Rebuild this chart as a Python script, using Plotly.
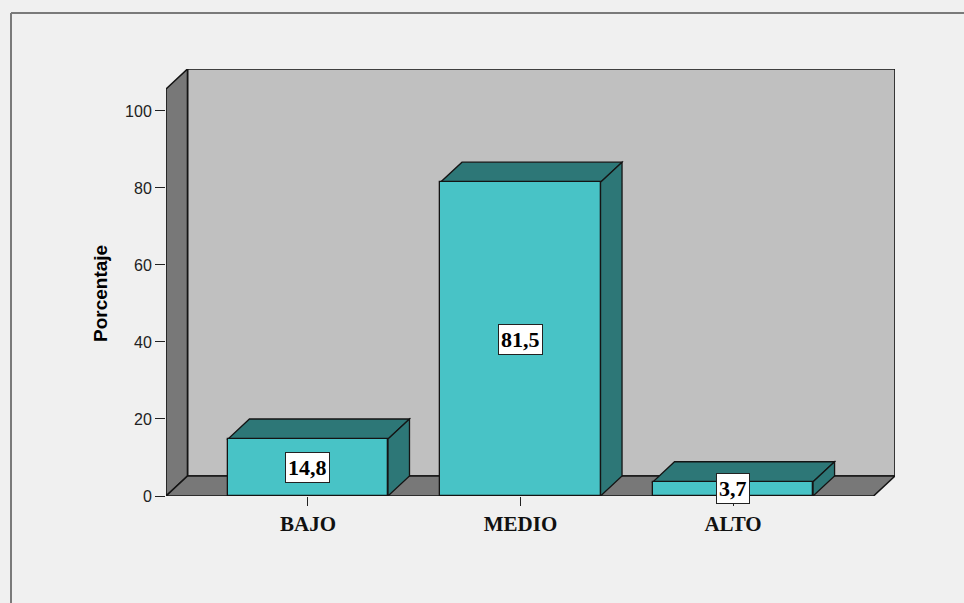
import plotly.graph_objects as go

# Data
categories = ["BAJO", "MEDIO", "ALTO"]
percentages = [14.8, 81.5, 3.7]
value_labels = ["14,8", "81,5", "3,7"]
y_ticks = [0, 20, 40, 60, 80, 100]
y_title = "Porcentaje"

# Figure geometry (pixels)
W, H = 964, 603
ML, MR, MT, MB = 166, 69, 69, 107
plot_w = W - ML - MR
plot_h = H - MT - MB

# Axis ranges: category slot = 212.5 px, value unit = 3.85 px
X0, X1 = -0.668, 2.762
Y0, Y1 = 0.0, 110.9
px_x = plot_w / (X1 - X0)
px_y = plot_h / (Y1 - Y0)

# 3D depth offset expressed in axis units
DX = 21.5 / px_x
DY = 20.0 / px_y
BAR_W = 0.753

FRONT = "#48c3c6"
SHADE = "#2d7777"
BACK_WALL = "#c0c0c0"
SIDE_WALL = "#787878"
EDGE = "#141414"


def poly(points):
    return "M " + " L ".join(f"{x},{y}" for x, y in points) + " Z"


shapes = []

# Back wall
shapes.append(dict(type="path", xref="x", yref="y", layer="below",
                   path=poly([(X0 + DX, DY), (X1, DY), (X1, Y1), (X0 + DX, Y1)]),
                   fillcolor=BACK_WALL, line=dict(color=EDGE, width=1.6)))
# Left wall
shapes.append(dict(type="path", xref="x", yref="y", layer="below",
                   path=poly([(X0, 0), (X0, Y1 - DY), (X0 + DX, Y1), (X0 + DX, DY)]),
                   fillcolor=SIDE_WALL, line=dict(color=EDGE, width=1.6)))
# Floor
shapes.append(dict(type="path", xref="x", yref="y", layer="below",
                   path=poly([(X0, 0), (X1 - DX, 0), (X1, DY), (X0 + DX, DY)]),
                   fillcolor=SIDE_WALL, line=dict(color=EDGE, width=1.6)))

# Top and side faces of each bar
for i, v in enumerate(percentages):
    xl, xr = i - BAR_W / 2, i + BAR_W / 2
    shapes.append(dict(type="path", xref="x", yref="y", layer="below",
                       path=poly([(xl, v), (xr, v), (xr + DX, v + DY), (xl + DX, v + DY)]),
                       fillcolor=SHADE, line=dict(color=EDGE, width=1.3)))
    shapes.append(dict(type="path", xref="x", yref="y", layer="below",
                       path=poly([(xr, 0), (xr, v), (xr + DX, v + DY), (xr + DX, DY)]),
                       fillcolor=SHADE, line=dict(color=EDGE, width=1.3)))


# Pixel -> paper helpers for decorations outside the plot area
def to_paper_x(px):
    return (px - ML) / plot_w


def to_paper_y(py):
    return (H - MB - py) / plot_h


# Outer frame (top and left edges)
shapes.append(dict(type="line", xref="paper", yref="paper", layer="above",
                   x0=to_paper_x(11), y0=to_paper_y(13), x1=to_paper_x(970), y1=to_paper_y(13),
                   line=dict(color="#7a7a7a", width=2)))
shapes.append(dict(type="line", xref="paper", yref="paper", layer="above",
                   x0=to_paper_x(11), y0=to_paper_y(13), x1=to_paper_x(11), y1=to_paper_y(610),
                   line=dict(color="#7a7a7a", width=2)))

fig = go.Figure()
fig.add_trace(go.Bar(
    x=list(range(len(categories))), y=percentages, width=BAR_W,
    marker=dict(color=FRONT, line=dict(color=EDGE, width=1.3)),
    hoverinfo="skip", showlegend=False,
))

annotations = []
for i, (v, lab) in enumerate(zip(percentages, value_labels)):
    annotations.append(dict(
        x=i, y=v / 2, xref="x", yref="y", text=f"<b>{lab}</b>", showarrow=False,
        font=dict(family="Liberation Serif", size=22, color="#000000"),
        bgcolor="#ffffff", bordercolor="#222222", borderwidth=1, borderpad=2,
    ))

# Rotated y-axis title
annotations.append(dict(
    x=to_paper_x(100), y=to_paper_y(294), xref="paper", yref="paper",
    text=f"<b>{y_title}</b>", textangle=-90, showarrow=False,
    xanchor="center", yanchor="middle",
    font=dict(family="Liberation Sans", size=19, color="#000000"),
))

fig.update_layout(
    width=W, height=H,
    margin=dict(l=ML, r=MR, t=MT, b=MB),
    paper_bgcolor="#f0f0f0",
    plot_bgcolor="rgba(0,0,0,0)",
    shapes=shapes,
    annotations=annotations,
    bargap=0,
    xaxis=dict(
        range=[X0, X1], tickmode="array", tickvals=list(range(len(categories))),
        ticktext=[f"<b>{c}</b>" for c in categories], ticks="outside", ticklen=9,
        tickcolor="#222222", tickwidth=1.2, showgrid=False, zeroline=False, showline=False,
        tickfont=dict(family="Liberation Serif", size=21, color="#111111"),
        ticklabelstandoff=0,
    ),
    yaxis=dict(
        range=[Y0, Y1], tickmode="array", tickvals=y_ticks,
        ticks="outside", ticklen=10, tickcolor="#222222", tickwidth=1.2,
        showgrid=False, zeroline=False, showline=False,
        tickfont=dict(family="Liberation Sans", size=16, color="#222222"),
    ),
)

fig.write_html("out.html")
